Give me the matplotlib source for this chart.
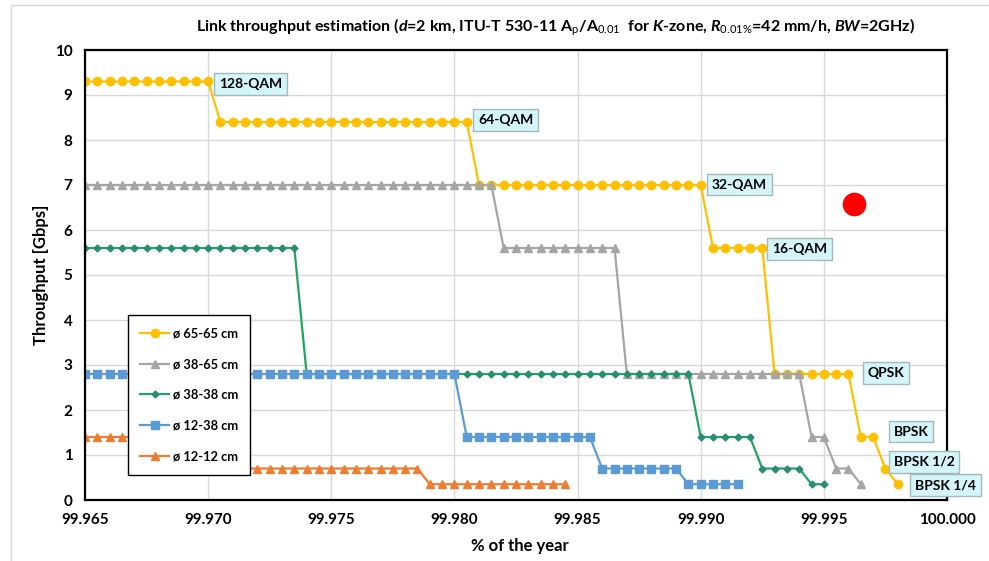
import matplotlib
matplotlib.use("Agg")
import matplotlib.pyplot as plt
from matplotlib.patches import Rectangle

FONT = ["Lato", "DejaVu Sans"]
plt.rcParams["font.family"] = FONT
plt.rcParams["mathtext.fontset"] = "custom"
plt.rcParams["mathtext.rm"] = "Lato"
plt.rcParams["mathtext.it"] = "Lato:italic:bold"
plt.rcParams["mathtext.bf"] = "Lato:bold"

# --- data ---
# sample grid: % of the year (one point every 0.0005 %)
pct = [
    99.9650, 99.9655, 99.9660, 99.9665, 99.9670, 99.9675, 99.9680, 99.9685, 99.9690, 99.9695,
    99.9700, 99.9705, 99.9710, 99.9715, 99.9720, 99.9725, 99.9730, 99.9735, 99.9740, 99.9745,
    99.9750, 99.9755, 99.9760, 99.9765, 99.9770, 99.9775, 99.9780, 99.9785, 99.9790, 99.9795,
    99.9800, 99.9805, 99.9810, 99.9815, 99.9820, 99.9825, 99.9830, 99.9835, 99.9840, 99.9845,
    99.9850, 99.9855, 99.9860, 99.9865, 99.9870, 99.9875, 99.9880, 99.9885, 99.9890, 99.9895,
    99.9900, 99.9905, 99.9910, 99.9915, 99.9920, 99.9925, 99.9930, 99.9935, 99.9940, 99.9945,
    99.9950, 99.9955, 99.9960, 99.9965, 99.9970, 99.9975, 99.9980,
]

# throughput [Gbps] per antenna pair, starting at pct[0]
thr_65_65 = [9.3] * 11 + [8.4] * 21 + [7.0] * 19 + [5.6] * 5 + [2.8] * 7 + [1.4] * 2 + [0.7] + [0.35]
thr_38_65 = [7.0] * 34 + [5.6] * 10 + [2.8] * 15 + [1.4] * 2 + [0.7] * 2 + [0.35]
thr_38_38 = [5.6] * 18 + [2.8] * 32 + [1.4] * 5 + [0.7] * 4 + [0.35] * 2
thr_12_38 = [2.8] * 31 + [1.4] * 11 + [0.7] * 7 + [0.35] * 5
thr_12_12 = [1.4] * 10 + [0.7] * 18 + [0.35] * 12

series_names = ["ø 65-65 cm", "ø 38-65 cm", "ø 38-38 cm", "ø 12-38 cm", "ø 12-12 cm"]
series_vals = [thr_65_65, thr_38_65, thr_38_38, thr_12_38, thr_12_12]

# modulation labels (anchor in data coords)
mod_labels = ["128-QAM", "64-QAM", "32-QAM", "16-QAM", "QPSK", "BPSK", "BPSK 1/2", "BPSK 1/4"]
mod_x = [99.97173, 99.98209, 99.99156, 99.99402, 99.99752, 99.99854, 99.99907, 99.99995]
mod_y = [9.25, 8.44, 7.01, 5.58, 2.82, 1.52, 0.85, 0.33]

# stray red marker
red_x = [99.99622]
red_y = [6.58]

x_ticks = [99.965, 99.970, 99.975, 99.980, 99.985, 99.990, 99.995, 100.000]
y_ticks = [0, 1, 2, 3, 4, 5, 6, 7, 8, 9, 10]

# --- styles ---
STYLES = [
    dict(color="#FFC000", marker="o", ms=6.0, mfc="#FFC000", mec="#FFC000"),
    dict(color="#A5A5A5", marker="^", ms=5.5, mfc="#A5A5A5", mec="#A5A5A5"),
    dict(color="#1FA463", marker="D", ms=3.5, mfc="#2A8C74", mec="#2A8C74"),
    dict(color="#5B9BD5", marker="s", ms=5.5, mfc="#5B9BD5", mec="#5B9BD5"),
    dict(color="#ED7D31", marker="^", ms=5.5, mfc="#ED7D31", mec="#ED7D31"),
]

W, H = 989, 561
fig = plt.figure(figsize=(W / 100, H / 100), dpi=100)
ax = fig.add_axes([85 / W, 1 - 500 / H, 862 / W, 450 / H])

for name, vals, st in zip(series_names, series_vals, STYLES):
    ax.plot(pct[:len(vals)], vals, label=name, linewidth=1.6, **st)

ax.plot(red_x, red_y, "o", color="#FF0000", ms=16, zorder=4)

for s, x, y in zip(mod_labels, mod_x, mod_y):
    ax.text(x, y, s, ha="center", va="center", fontsize=10, fontweight="bold",
            bbox=dict(boxstyle="square,pad=0.35", fc="#D4F6FA", ec="#A4B8BC", lw=1),
            clip_on=False, zorder=6)

ax.set_xlim(99.965, 100.000)
ax.set_ylim(0, 10)
ax.set_xticks(x_ticks)
ax.set_xticklabels([f"{t:.3f}" for t in x_ticks], fontweight="bold", fontsize=11)
ax.set_yticks(y_ticks)
ax.set_yticklabels([str(t) for t in y_ticks], fontweight="bold", fontsize=11)
ax.tick_params(length=0, pad=9)
ax.grid(color="#D9D9D9", linewidth=1)
ax.set_axisbelow(True)
for sp in ax.spines.values():
    sp.set_color("black")
    sp.set_linewidth(1.6)

ax.set_xlabel("% of the year", fontsize=12, fontweight="bold")
ax.set_ylabel("Throughput [Gbps]", fontsize=12, fontweight="bold")
ax.xaxis.set_label_coords(0.505, -0.084)
ax.yaxis.set_label_coords(-0.042, 0.5)

leg = ax.legend(loc="upper left", bbox_to_anchor=(0.05, 0.411), borderaxespad=0,
                fancybox=False, edgecolor="black", framealpha=1,
                labelspacing=1.45, handlelength=2.2, handletextpad=0.3,
                borderpad=0.95, prop=dict(weight="bold", size=9.3))
leg.get_frame().set_linewidth(1.0)

title = (r"Link throughput estimation ($\mathit{d}$=2 km, ITU-T 530-11 A$_{\mathrm{p}}$/A$_{\mathrm{0.01}}$"
         r"  for $\mathit{K}$-zone, $\mathit{R}_{\mathrm{0.01\%}}$=42 mm/h, $\mathit{BW}$=2GHz)")
fig.text(556 / W, 1 - 27 / H, title, ha="center", va="center", fontsize=11.5, fontweight="bold")

fig.add_artist(Rectangle((11 / W, -0.05), 1.2, 1.05 - 5 / H, transform=fig.transFigure,
                         fill=False, ec="#D9D9D9", lw=1))

fig.savefig("out.png", dpi=100)
